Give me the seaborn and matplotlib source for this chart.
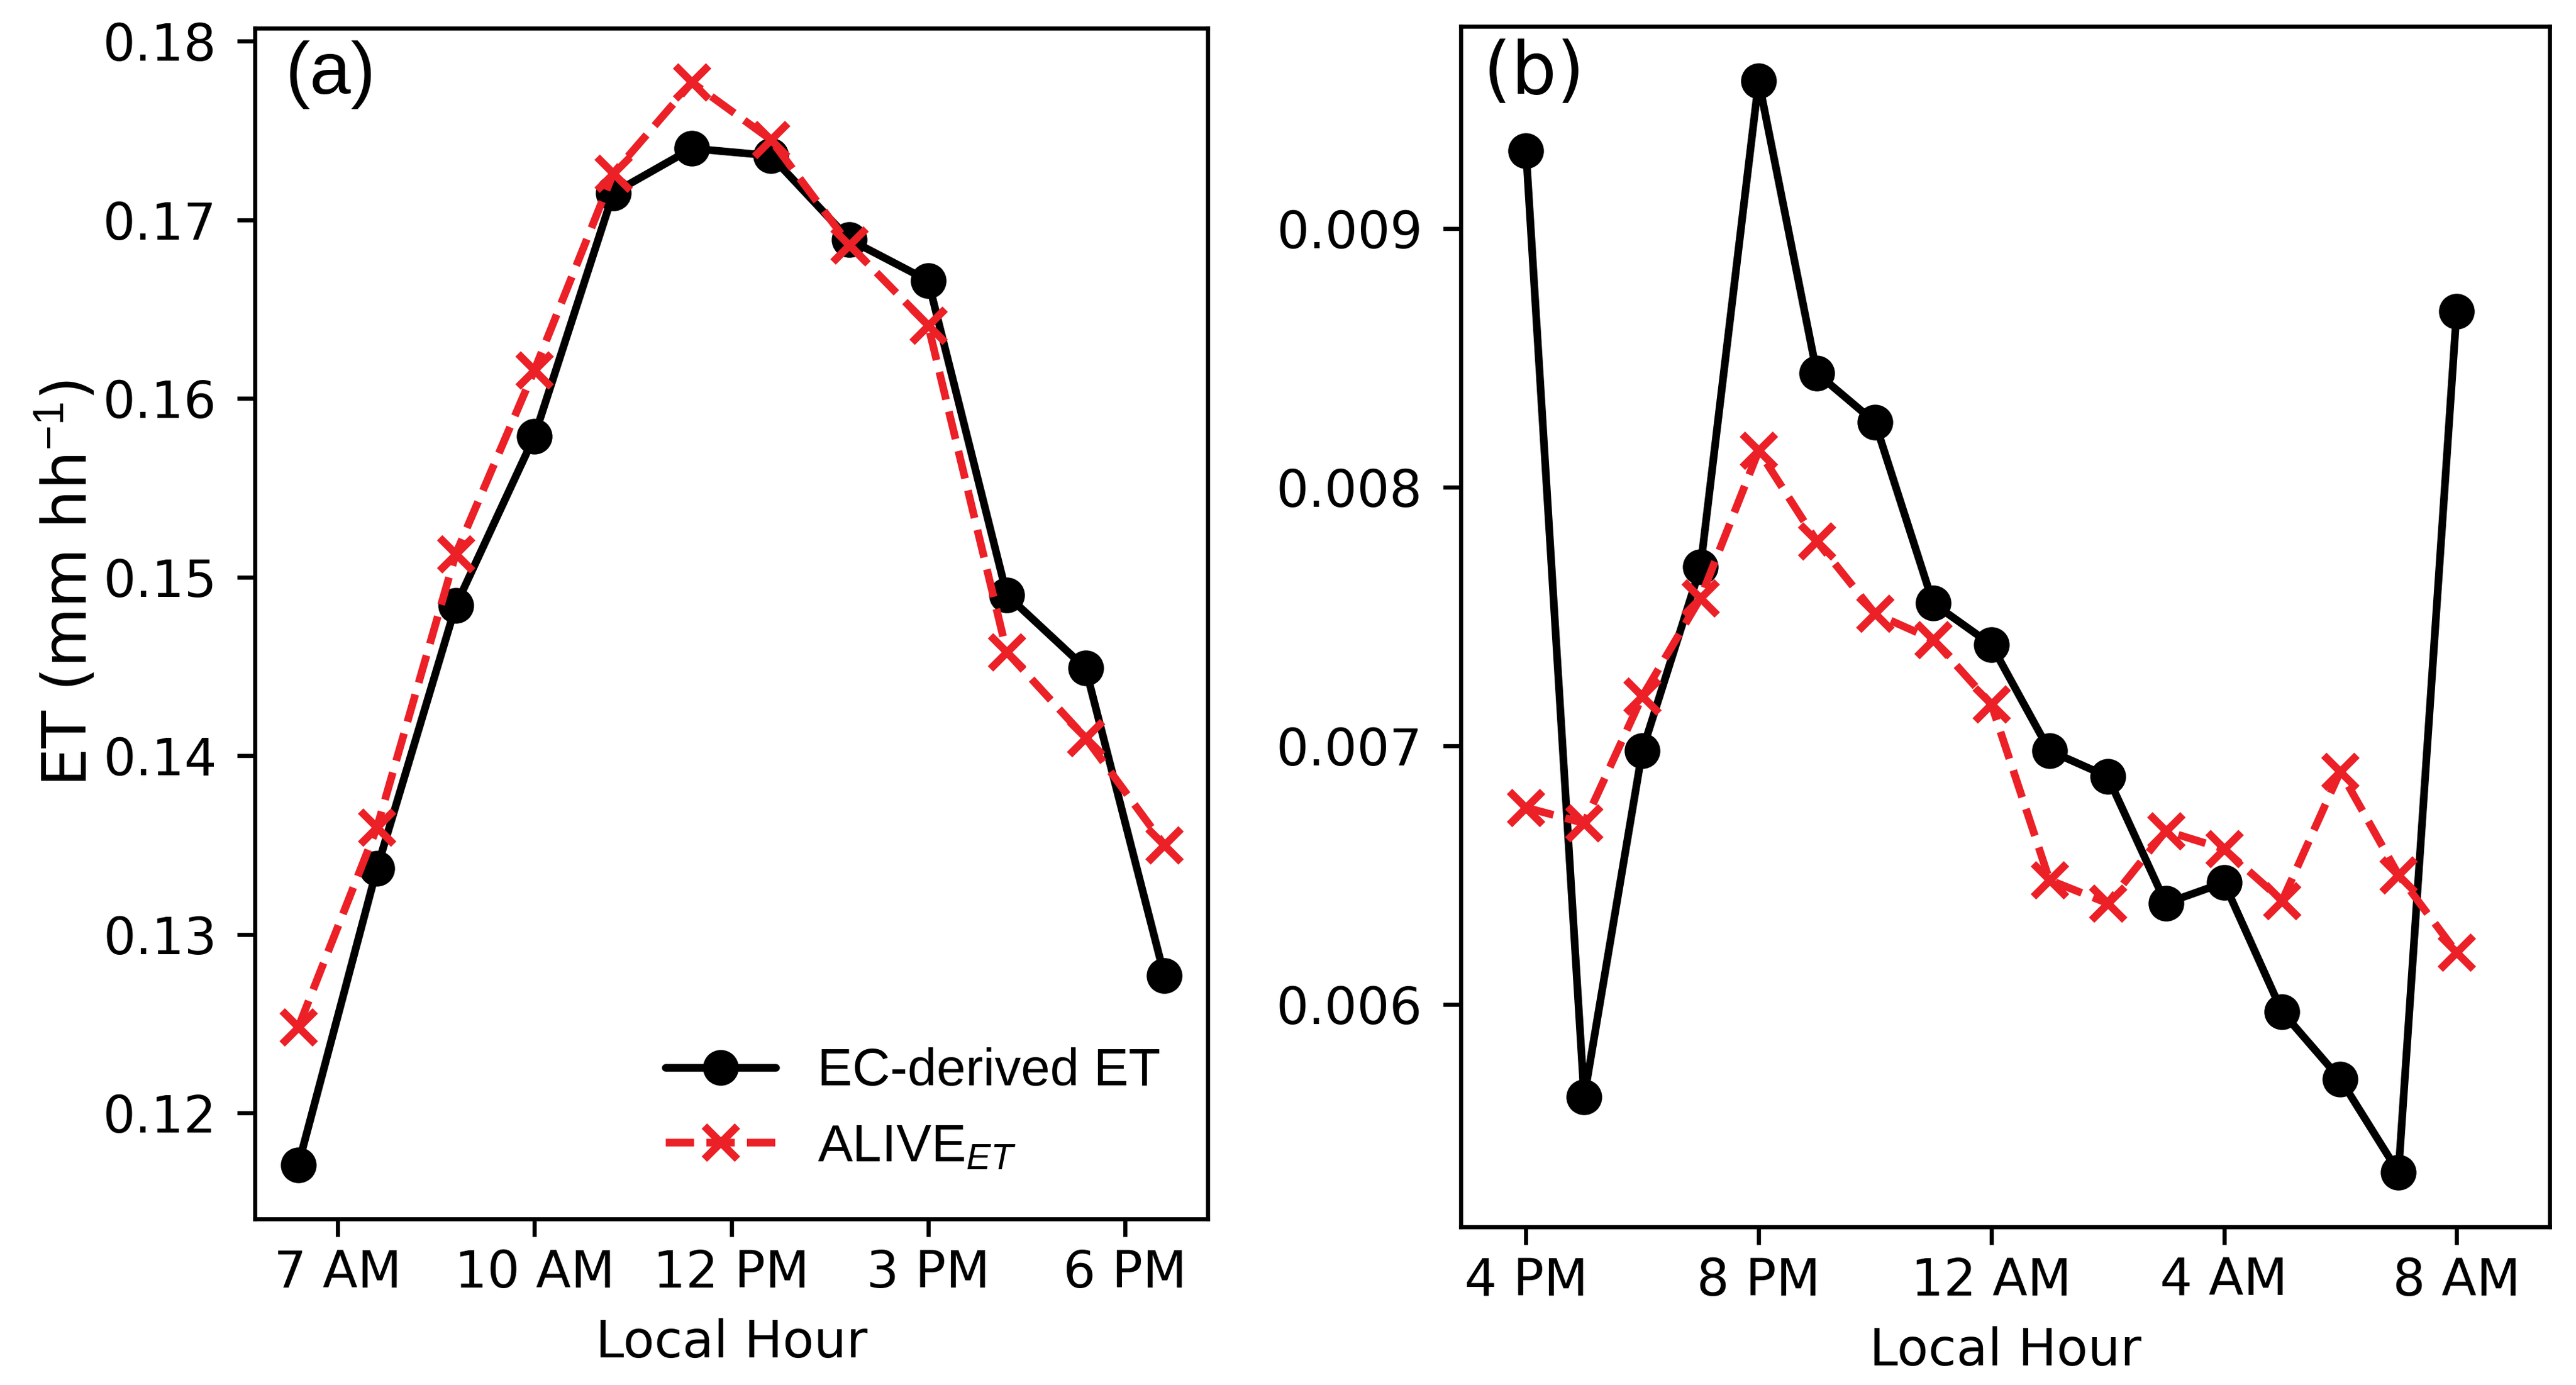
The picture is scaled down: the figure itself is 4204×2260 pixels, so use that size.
import numpy as np
import matplotlib
matplotlib.use("Agg")
import matplotlib.pyplot as plt
import seaborn as sns

# panel (a): daytime, 12 sample slots
day_ec = [0.1171, 0.1337, 0.1484, 0.1579, 0.1715, 0.1740,
          0.1736, 0.1689, 0.1666, 0.1490, 0.1449, 0.1277]
day_alive = [0.1248, 0.1360, 0.1513, 0.1616, 0.1726, 0.1777,
             0.1745, 0.1686, 0.1641, 0.1458, 0.1410, 0.1350]
day_ticklabels = ["7 AM", "10 AM", "12 PM", "3 PM", "6 PM"]

# panel (b): night, hourly 4 PM -> 8 AM
night_ec = [0.00930, 0.00564, 0.00698, 0.00769, 0.00957, 0.00844,
            0.00825, 0.00755, 0.00739, 0.00698, 0.00688, 0.00639,
            0.00647, 0.00597, 0.00571, 0.00535, 0.00868]
night_alive = [0.00676, 0.00670, 0.00719, 0.00757, 0.00814, 0.00779,
               0.00751, 0.00741, 0.00716, 0.00648, 0.00639, 0.00667,
               0.00660, 0.00640, 0.00690, 0.00650, 0.00620]
night_ticklabels = ["4 PM", "8 PM", "12 AM", "4 AM", "8 AM"]

labels = ["EC-derived ET", "ALIVE$_{ET}$"]

sns.set_style("ticks")
plt.rcParams["font.family"] = ["DejaVu Sans"]
plt.rcParams["mathtext.fontset"] = "custom"
plt.rcParams["mathtext.rm"] = "Liberation Sans"
plt.rcParams["mathtext.it"] = "Liberation Sans:italic"
plt.rcParams["axes.edgecolor"] = "black"
plt.rcParams["axes.labelcolor"] = "black"
plt.rcParams["text.color"] = "black"
plt.rcParams["xtick.color"] = "black"
plt.rcParams["ytick.color"] = "black"
plt.rcParams["axes.linewidth"] = 1.6

RED = "#EC2027"

fig = plt.figure(figsize=(4204 / 300, 2260 / 300), dpi=300)
ax1 = fig.add_axes([0.0990, 0.1199, 0.3698, 0.8597])
ax2 = fig.add_axes([0.5671, 0.1142, 0.4227, 0.8668])


def draw(ax, ec, alive):
    x = np.arange(len(ec))
    sns.lineplot(x=x, y=ec, ax=ax, color="black", lw=3, marker="o",
                 markersize=14, markeredgewidth=0, label=labels[0])
    sns.lineplot(x=x, y=alive, ax=ax, color=RED, lw=3, linestyle="--",
                 marker="x", markersize=13, markeredgewidth=3,
                 markeredgecolor=RED, label=labels[1])
    for s in ax.spines.values():
        s.set_visible(True)
        s.set_linewidth(1.6)
        s.set_color("black")
    ax.tick_params(axis="both", direction="out", length=7, width=1.6,
                   labelsize=20, colors="black")
    ax.tick_params(axis="y", pad=8)
    ax.tick_params(axis="x", pad=4.5)
    ax.set_xlabel("Local Hour", fontsize=20, labelpad=8, color="black")


draw(ax1, day_ec, day_alive)
ax1.set_xticks([0.5, 3, 5.5, 8, 10.5])
ax1.set_xticklabels(day_ticklabels)
ax1.set_yticks([0.12, 0.13, 0.14, 0.15, 0.16, 0.17, 0.18])
ax1.set_yticklabels(["0.12", "0.13", "0.14", "0.15", "0.16", "0.17", "0.18"])
ax1.set_ylabel("ET (mm hh$^{-1}$)", fontsize=24, color="black")
ax1.yaxis.set_label_coords(-0.163, 0.534)
ax1.text(0.032, 0.99, "(a)", transform=ax1.transAxes, fontsize=29,
         family="Liberation Sans", va="top", ha="left", color="black")
leg = ax1.legend(loc="lower right", frameon=False, handlelength=2.1,
                 prop={"family": "Liberation Sans", "size": 20.5})
for t in leg.get_texts():
    t.set_color("black")

draw(ax2, night_ec, night_alive)
ax2.legend_.remove()
ax2.set_xlim(-1.12, 17.6)
ax2.set_xticks([0, 4, 8, 12, 16])
ax2.set_xticklabels(night_ticklabels)
ax2.set_yticks([0.006, 0.007, 0.008, 0.009])
ax2.set_yticklabels(["0.006", "0.007", "0.008", "0.009"])
ax2.set_ylabel("")
ax2.text(0.021, 0.99, "(b)", transform=ax2.transAxes, fontsize=28,
         va="top", ha="left", color="black")

fig.savefig("out.png", dpi=300, facecolor="white")
